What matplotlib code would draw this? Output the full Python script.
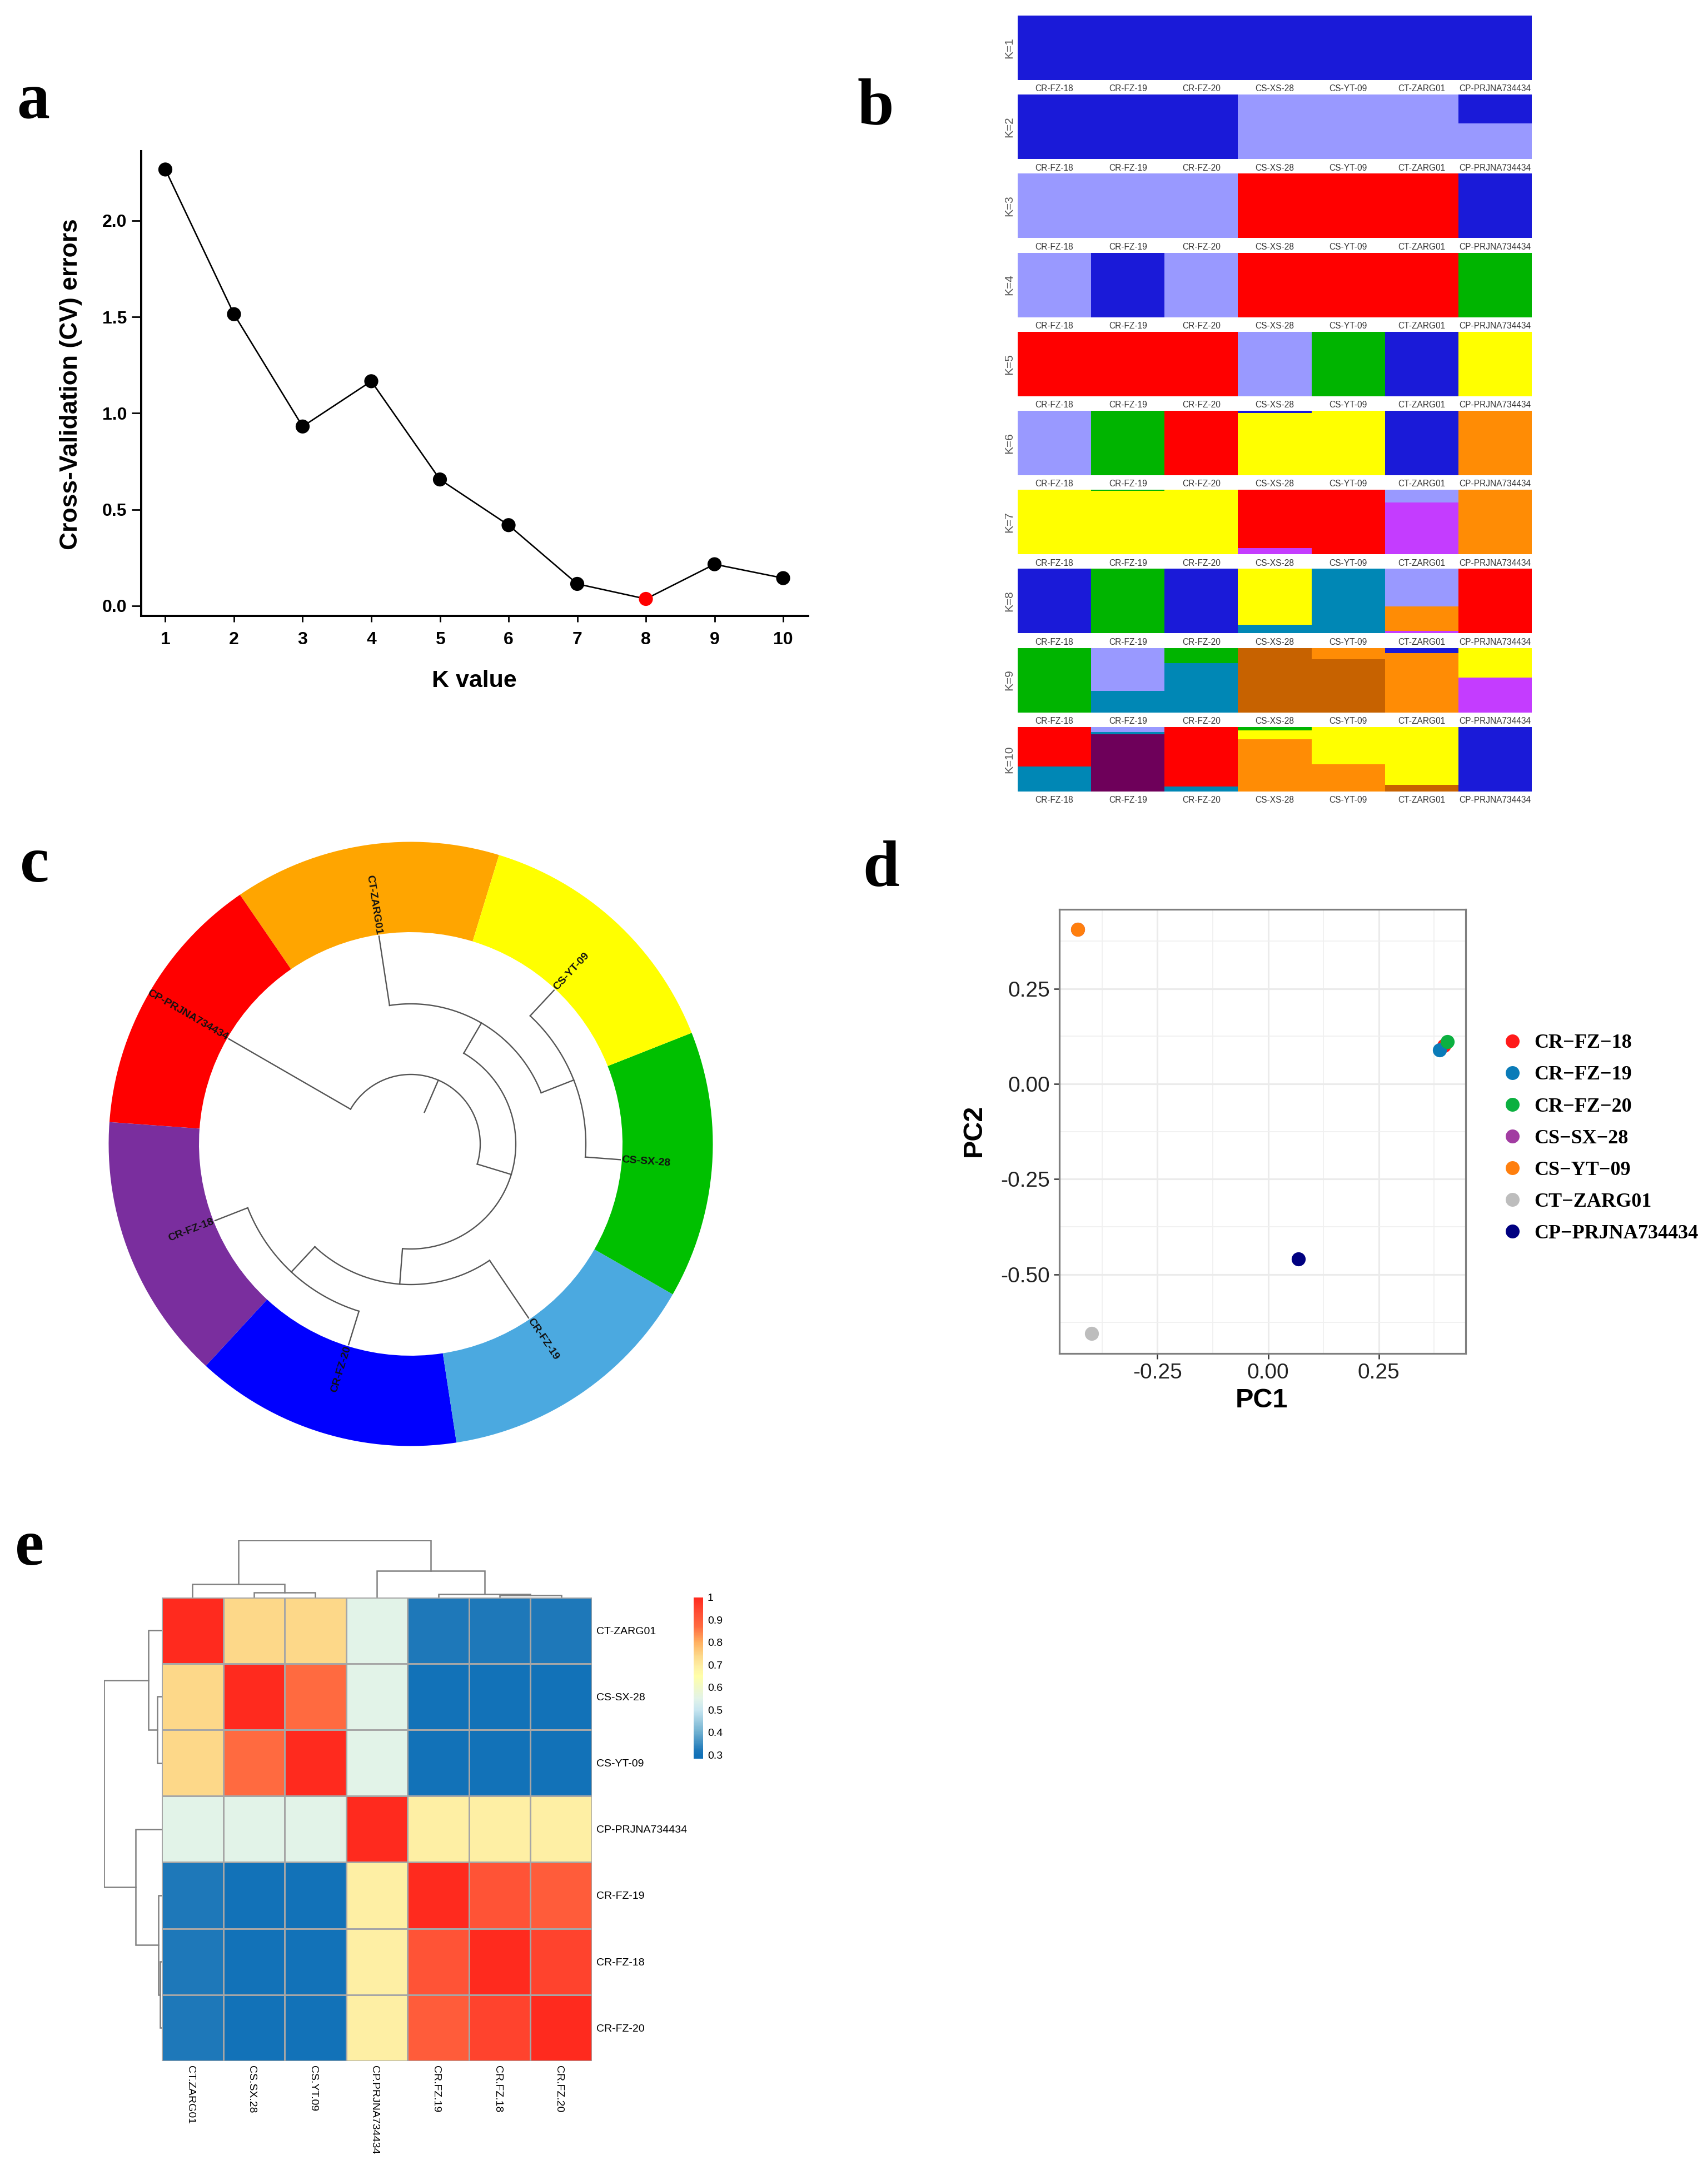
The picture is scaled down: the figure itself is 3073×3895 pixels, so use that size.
import numpy as np
import matplotlib
matplotlib.use("Agg")
import matplotlib.pyplot as plt
from matplotlib.colors import LinearSegmentedColormap
from matplotlib.lines import Line2D
from matplotlib.transforms import ScaledTranslation

W, H = 3073, 3895
SERIF = "Liberation Serif"
SANS = "Liberation Sans"

# ---- panel a: CV errors ----
k_values = [1, 2, 3, 4, 5, 6, 7, 8, 9, 10]
cv_errors = [2.265, 1.514, 0.931, 1.166, 0.656, 0.419, 0.114, 0.036, 0.216, 0.144]
best_k = 8

# ---- panel b: admixture, every K stacked top to bottom ----
samples = ["CR-FZ-18", "CR-FZ-19", "CR-FZ-20", "CS-XS-28", "CS-YT-09", "CT-ZARG01", "CP-PRJNA734434"]
BLUE, LAV, RED, GRN, YEL = "#1a1ad8", "#9999ff", "#ff0000", "#00b400", "#ffff00"
ORG, PUR, TEAL, BRN, DPUR = "#ff8c05", "#c43cff", "#0087b5", "#c76200", "#6e005a"

k1 = [(BLUE, [1, 1, 1, 1, 1, 1, 1])]
k2 = [(BLUE, [1, 1, 1, 0, 0, 0, .45]), (LAV, [0, 0, 0, 1, 1, 1, .55])]
k3 = [(LAV, [1, 1, 1, 0, 0, 0, 0]), (RED, [0, 0, 0, 1, 1, 1, 0]), (BLUE, [0, 0, 0, 0, 0, 0, 1])]
k4 = [(LAV, [1, 0, 1, 0, 0, 0, 0]), (BLUE, [0, 1, 0, 0, 0, 0, 0]), (RED, [0, 0, 0, 1, 1, 1, 0]),
      (GRN, [0, 0, 0, 0, 0, 0, 1])]
k5 = [(RED, [1, 1, 1, 0, 0, 0, 0]), (LAV, [0, 0, 0, 1, 0, 0, 0]), (GRN, [0, 0, 0, 0, 1, 0, 0]),
      (BLUE, [0, 0, 0, 0, 0, 1, 0]), (YEL, [0, 0, 0, 0, 0, 0, 1])]
k6 = [(LAV, [1, 0, 0, 0, 0, 0, 0]), (GRN, [0, 1, 0, 0, 0, 0, 0]), (RED, [0, 0, 1, 0, 0, 0, 0]),
      (BLUE, [0, 0, 0, .035, 0, 1, 0]), (YEL, [0, 0, 0, .965, 1, 0, 0]), (ORG, [0, 0, 0, 0, 0, 0, 1])]
k7 = [(GRN, [0, .015, 0, 0, 0, 0, 0]), (LAV, [0, 0, 0, 0, 0, .2, 0]), (YEL, [1, .985, 1, 0, 0, 0, 0]),
      (RED, [0, 0, 0, .9, 1, 0, 0]), (PUR, [0, 0, 0, .1, 0, .8, 0]), (ORG, [0, 0, 0, 0, 0, 0, 1])]
k8 = [(BLUE, [1, 0, 1, 0, 0, 0, 0]), (GRN, [0, 1, 0, 0, 0, 0, 0]), (LAV, [0, 0, 0, 0, 0, .58, 0]),
      (YEL, [0, 0, 0, .87, 0, 0, 0]), (TEAL, [0, 0, 0, .13, 1, 0, 0]), (ORG, [0, 0, 0, 0, 0, .38, 0]),
      (PUR, [0, 0, 0, 0, 0, .04, 0]), (RED, [0, 0, 0, 0, 0, 0, 1])]
k9 = [(GRN, [1, 0, .24, 0, 0, 0, 0]), (LAV, [0, .67, 0, 0, 0, 0, 0]), (TEAL, [0, .33, .76, 0, 0, 0, 0]),
      (BLUE, [0, 0, 0, 0, 0, .08, 0]), (ORG, [0, 0, 0, 0, .18, .92, 0]), (YEL, [0, 0, 0, 0, 0, 0, .46]),
      (BRN, [0, 0, 0, 1, .82, 0, 0]), (PUR, [0, 0, 0, 0, 0, 0, .54])]
k10 = [(GRN, [0, 0, 0, .05, 0, 0, 0]), (LAV, [0, .08, 0, 0, 0, 0, 0]), (RED, [.61, 0, .92, 0, 0, 0, 0]),
       (YEL, [0, 0, 0, .14, .58, .9, 0]), (TEAL, [.39, .03, .08, 0, 0, 0, 0]), (DPUR, [0, .89, 0, 0, 0, 0, 0]),
       (ORG, [0, 0, 0, .81, .42, 0, 0]), (BRN, [0, 0, 0, 0, 0, .1, 0]), (BLUE, [0, 0, 0, 0, 0, 0, 1])]
admixture = [k1, k2, k3, k4, k5, k6, k7, k8, k9, k10]

# ---- panel c: circular tree, radii in pixels of the ring picture ----
ring_colors = ["#ffa500", "#ff0000", "#7a2e9e", "#0000ff", "#4ba9e0", "#00c000", "#ffff00"]
ring_sizes = [1, 1, 1, 1, 1, 1, 1]
leaf_names = ["CT-ZARG01", "CP-PRJNA734434", "CR-FZ-18", "CR-FZ-20", "CR-FZ-19", "CS-SX-28", "CS-YT-09"]
leaf_angles = [98.7, 150.0, -158.6, -107.2, -55.9, -4.3, 47.0]
leaf_starts = [252, 125, 315, 315, 253, 315, 315]
tree_radials = [(66.6, 62, 125), (-16.9, 125, 189), (59.7, 189, 252), (21.4, 252, 315),
                (-94.5, 189, 253), (-133.0, 253, 315)]
tree_arcs = [(125, 150.0, -16.9), (189, 59.7, -94.5), (252, 98.7, 21.4), (315, 47.0, -4.3),
             (253, -55.9, -133.0), (315, -107.2, -158.6)]

# ---- panel d: PCA ----
pca_names = ["CR\u2212FZ\u221218", "CR\u2212FZ\u221219", "CR\u2212FZ\u221220", "CS\u2212SX\u221228",
             "CS\u2212YT\u221209", "CT\u2212ZARG01", "CP\u2212PRJNA734434"]
pca_colors = ["#ff1a1a", "#0a7bb8", "#0cb040", "#a23ca2", "#ff7f0e", "#bdbdbd", "#000080"]
pc1 = [0.3976, 0.3873, 0.4044, -0.4306, -0.4306, -0.3987, 0.0684]
pc2 = [0.1013, 0.0893, 0.1106, 0.405, 0.405, -0.6545, -0.460]

# ---- panel e: similarity heatmap ----
row_names = ["CT-ZARG01", "CS-SX-28", "CS-YT-09", "CP-PRJNA734434", "CR-FZ-19", "CR-FZ-18", "CR-FZ-20"]
col_names = ["CT.ZARG01", "CS.SX.28", "CS.YT.09", "CP.PRJNA734434", "CR.FZ.19", "CR.FZ.18", "CR.FZ.20"]
similarity = [
    [1.00, 0.74, 0.74, 0.55, 0.32, 0.32, 0.32],
    [0.74, 1.00, 0.87, 0.55, 0.30, 0.30, 0.30],
    [0.74, 0.87, 1.00, 0.55, 0.30, 0.30, 0.30],
    [0.55, 0.55, 0.55, 1.00, 0.69, 0.69, 0.69],
    [0.32, 0.30, 0.30, 0.69, 1.00, 0.92, 0.90],
    [0.32, 0.30, 0.30, 0.69, 0.92, 1.00, 0.95],
    [0.32, 0.30, 0.30, 0.69, 0.90, 0.95, 1.00],
]
# (height, left, right), leaves are the index of the row or column
top_tree = (137, (32, 0, (11, 1, 2)), (63, 3, (8, 4, (5, 5, 6))))
left_tree = (130, (30, 0, (10, 1, 2)), (59, 3, (7, 4, (4, 5, 6))))
bar_ticks = [1, 0.9, 0.8, 0.7, 0.6, 0.5, 0.4, 0.3]
heat_cmap = LinearSegmentedColormap.from_list("heat", [
    (0.0, "#0f6fb8"), (0.023, "#1272b8"), (0.051, "#1e78b9"), (0.163, "#6fb0d0"), (0.302, "#c8e6f0"),
    (0.372, "#e2f3e8"), (0.442, "#f0f8c8"), (0.512, "#ffffa8"), (0.567, "#fef0a5"), (0.637, "#fdd98a"),
    (0.721, "#ffb060"), (0.82, "#ff6a40"), (0.9, "#ff5035"), (1.0, "#ff2a1e")])

fig = plt.figure(figsize=(W / 100, H / 100), dpi=100)
fig.patch.set_facecolor("white")


def px_axes(left, top, right, bottom):
    return fig.add_axes([left / W, 1 - bottom / H, (right - left) / W, (bottom - top) / H])


for letter, x, y in [("a", 30, 213), ("b", 1543, 222), ("c", 36, 1586), ("d", 1552, 1594), ("e", 27, 2815)]:
    fig.text(x / W, 1 - y / H, letter, family=SERIF, weight="bold", fontsize=85, ha="left", va="baseline")

# a
ax = px_axes(253.5, 272, 1454, 1108)
ax.plot(k_values, cv_errors, color="black", lw=1.9, zorder=2)
ax.scatter(k_values, cv_errors, s=330, linewidths=0,
           c=["red" if k == best_k else "black" for k in k_values], zorder=3)
ax.set_xlim(0.644, 10.364)
ax.set_ylim(-0.052, 2.36)
ax.set_xticks(k_values)
ax.set_yticks([0, 0.5, 1, 1.5, 2], ["0.0", "0.5", "1.0", "1.5", "2.0"])
ax.tick_params(axis="x", length=8, width=2, pad=12)
ax.tick_params(axis="y", length=12, width=2, pad=6)
for t in ax.get_xticklabels() + ax.get_yticklabels():
    t.set(family=SANS, weight="bold", fontsize=23)
for s in ["top", "right"]:
    ax.spines[s].set_visible(False)
for s in ["left", "bottom"]:
    ax.spines[s].set_linewidth(2.9)
fig.text(853 / W, 1 - 1225 / H, "K value", family=SANS, weight="bold", fontsize=31, ha="center", va="center")
fig.text(127 / W, 1 - 691 / H, "Cross-Validation (CV) errors", family=SANS, weight="bold", fontsize=32,
         rotation=90, ha="center", va="center")

# b
for i, layers in enumerate(admixture):
    top = 28 + i * 142.2
    ax = px_axes(1831, top, 2756, top + 116)
    x = np.arange(len(samples))
    cum = np.zeros(len(samples))
    for color, values in layers:
        ax.bar(x, values, bottom=cum, width=1.0, color=color, linewidth=0)
        cum = cum + np.array(values)
    ax.set_xlim(-0.5, 6.5)
    ax.set_ylim(1, 0)
    ax.set_yticks([])
    ax.set_xticks(x, samples)
    ax.tick_params(axis="x", length=0, pad=6, labelsize=11.2, labelcolor="#333333")
    for t in ax.get_xticklabels():
        t.set_family(SANS)
    for s in ax.spines.values():
        s.set_visible(False)
    ax.text(-0.006, 0.5, f"K={i + 1}", transform=ax.transAxes, rotation=90, family=SANS, fontsize=15,
            color="#555555", ha="right", va="center")

# c
R_OUT = 543.5
R_IN = 381.0
ax = px_axes(739 - R_OUT, 2058 - R_OUT, 739 + R_OUT, 2058 + R_OUT)
ax.pie(ring_sizes, colors=ring_colors, startangle=73, radius=R_OUT, counterclock=True,
       wedgeprops={"width": R_OUT - R_IN, "linewidth": 0})
ax.set_xlim(-R_OUT, R_OUT)
ax.set_ylim(-R_OUT, R_OUT)
ax.set_aspect("equal")
ax.axis("off")
TREE = "#555555"
for angle, r0, r1 in tree_radials:
    a = np.radians(angle)
    ax.plot([r0 * np.cos(a), r1 * np.cos(a)], [r0 * np.sin(a), r1 * np.sin(a)], color=TREE, lw=1.7)
for r, a0, a1 in tree_arcs:
    a = np.radians(np.linspace(a0, a1, 120))
    ax.plot(r * np.cos(a), r * np.sin(a), color=TREE, lw=1.7)
for name, angle, start in zip(leaf_names, leaf_angles, leaf_starts):
    a = np.radians(angle)
    ax.plot([start * np.cos(a), (R_IN - 3) * np.cos(a)], [start * np.sin(a), (R_IN - 3) * np.sin(a)],
            color=TREE, lw=1.7)
    left_side = np.cos(a) < 0
    ax.text(R_IN * np.cos(a), R_IN * np.sin(a), name, family=SANS, weight="bold", fontsize=14,
            rotation=angle - 180 if left_side else angle, rotation_mode="anchor",
            ha="right" if left_side else "left", va="center", color="#111111")

# d
ax = px_axes(1906, 1636, 2637, 2435.5)
ax.set_xlim(-0.4715, 0.446)
ax.set_ylim(-0.708, 0.458)
ax.set_xticks([-0.25, 0, 0.25], ["-0.25", "0.00", "0.25"])
ax.set_yticks([-0.5, -0.25, 0, 0.25], ["-0.50", "-0.25", "0.00", "0.25"])
ax.set_xticks([-0.375, -0.125, 0.125, 0.375], minor=True)
ax.set_yticks([-0.625, -0.375, -0.125, 0.125, 0.375], minor=True)
ax.grid(True, which="major", color="#ebebeb", lw=2.2)
ax.grid(True, which="minor", color="#f0f0f0", lw=1.3)
ax.set_axisbelow(True)
ax.tick_params(which="minor", length=0)
ax.tick_params(which="major", length=7, width=1.8, color="#333333", pad=5)
for t in ax.get_xticklabels() + ax.get_yticklabels():
    t.set(family=SANS, fontsize=28, color="#222222")
for s in ax.spines.values():
    s.set_color("#7f7f7f")
    s.set_linewidth(2.3)
for i in [3, 4, 5, 6, 0, 1, 2]:
    ax.scatter(pc1[i], pc2[i], s=330, color=pca_colors[i], linewidths=0, zorder=3)
fig.text(2270 / W, 1 - 2520 / H, "PC1", family=SANS, weight="bold", fontsize=35, ha="center", va="center")
fig.text(1752 / W, 1 - 2034 / H, "PC2", family=SANS, weight="bold", fontsize=35, rotation=90,
         ha="center", va="center")
handles = [Line2D([], [], ls="", marker="o", ms=18, mew=0, color=c) for c in pca_colors]
leg = fig.legend(handles, pca_names, loc="upper left", bbox_to_anchor=(2685 / W, 1 - 1860 / H),
                 bbox_transform=fig.transFigure, frameon=False, handletextpad=0.07, labelspacing=0.66,
                 borderaxespad=0, borderpad=0, prop={"family": SERIF, "weight": "bold", "size": 26})

# e
ax = px_axes(291, 2873.6, 1065, 3708)
sim = np.array(similarity)
mesh = ax.pcolormesh(sim, cmap=heat_cmap, vmin=0.2834, vmax=1.0, edgecolors="#a6a6a6", linewidth=2.0)
ax.set_ylim(7, 0)
ax.set_xlim(0, 7)
ax.set_xticks(np.arange(7) + 0.5, col_names, rotation=270, family=SANS, fontsize=14)
ax.set_yticks(np.arange(7) + 0.5, row_names, family=SANS, fontsize=14)
ax.yaxis.tick_right()
ax.tick_params(length=0, pad=6)
for t in ax.get_xticklabels():
    t.set_transform(t.get_transform() + ScaledTranslation(-4 / 100, 0, fig.dpi_scale_trans))
for s in ax.spines.values():
    s.set_visible(False)


def draw_tree(node, axis, horizontal):
    # returns leaf-axis position and height of this node
    if not isinstance(node, tuple):
        return node + 0.5, 0
    h, left, right = node
    p0, h0 = draw_tree(left, axis, horizontal)
    p1, h1 = draw_tree(right, axis, horizontal)
    xs, ys = [p0, p0, p1, p1], [h0, h, h, h1]
    if horizontal:
        axis.plot(xs, ys, color="#808080", lw=1.8, solid_joinstyle="miter")
    else:
        axis.plot(ys, xs, color="#808080", lw=1.8, solid_joinstyle="miter")
    return (p0 + p1) / 2, h


ax_top = px_axes(291, 2873.6 - 102.7, 1065, 2873.6)
draw_tree(top_tree, ax_top, True)
ax_top.set_xlim(0, 7)
ax_top.set_ylim(0, 137)
ax_top.axis("off")

ax_left = px_axes(291 - 103.6, 2873.6, 291, 3708)
draw_tree(left_tree, ax_left, False)
ax_left.set_xlim(130, 0)
ax_left.set_ylim(7, 0)
ax_left.axis("off")

cax = px_axes(1247.8, 2873.6, 1264.5, 3164)
cb = fig.colorbar(mesh, cax=cax, ticks=bar_ticks)
cb.ax.set_yticklabels(["1", "0.9", "0.8", "0.7", "0.6", "0.5", "0.4", "0.3"], family=SANS, fontsize=14)
cb.ax.tick_params(length=0, pad=6)
cb.outline.set_visible(False)

fig.savefig("out.png", dpi=100)
